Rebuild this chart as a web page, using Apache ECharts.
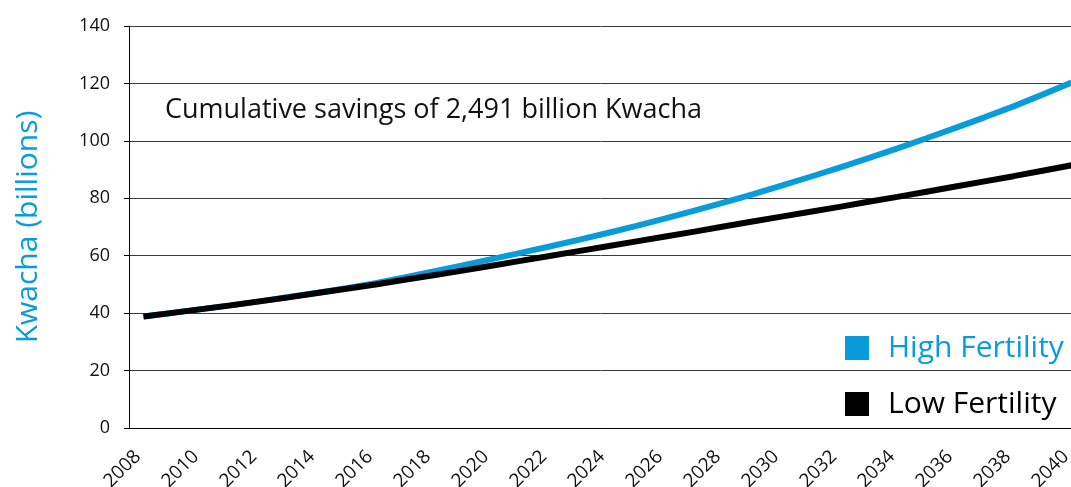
<!DOCTYPE html>
<html>
<head>
<meta charset="utf-8">
<script src="https://cdn.jsdelivr.net/npm/echarts@6/dist/echarts.min.js"></script>
<style>
  html, body { margin: 0; padding: 0; background: #fff; overflow: hidden; }
  #chart { width: 1071px; height: 487px; }
</style>
</head>
<body>
<div id="chart"></div>
<script>
// Years on the horizontal axis
const years = [
  '2008','2009','2010','2011','2012','2013','2014','2015','2016','2017','2018',
  '2019','2020','2021','2022','2023','2024','2025','2026','2027','2028','2029',
  '2030','2031','2032','2033','2034','2035','2036','2037','2038','2039','2040'
];

// Annual values, billions of Kwacha
const highFertility = [
  38.8, 40.1, 41.4, 42.7, 44.1, 45.6, 47.1, 48.7, 50.4, 52.4, 54.5,
  56.6, 58.8, 61.0, 63.2, 65.5, 67.9, 70.4, 73.0, 75.7, 78.5, 81.4,
  84.4, 87.5, 90.7, 94.0, 97.4, 100.9, 104.5, 108.2, 112.0, 116.1, 120.3
];
const lowFertility = [
  38.8, 40.1, 41.4, 42.7, 44.1, 45.5, 47.0, 48.5, 50.0, 51.6, 53.2,
  54.8, 56.5, 58.2, 59.9, 61.6, 63.3, 65.0, 66.7, 68.4, 70.2, 71.9,
  73.6, 75.3, 77.0, 78.8, 80.5, 82.3, 84.1, 85.9, 87.7, 89.6, 91.5
];

const seriesNames = ['High Fertility', 'Low Fertility'];
const yTicks = { min: 0, max: 140, interval: 20 };
const note = 'Cumulative savings of 2,491 billion Kwacha';

const BLUE = '#0a9bda';
const FONT = '"Open Sans", "DejaVu Sans", sans-serif';

const chart = echarts.init(document.getElementById('chart'), null, { renderer: 'canvas' });

chart.setOption({
  animation: false,
  backgroundColor: '#ffffff',
  title: {
    text: note,
    left: 165,
    top: 97,
    padding: 0,
    textStyle: { fontFamily: FONT, fontSize: 27, fontWeight: 'normal', color: '#111' }
  },
  legend: {
    orient: 'vertical',
    left: 845,
    top: 333,
    padding: 0,
    itemWidth: 24,
    itemHeight: 24,
    itemGap: 26,
    icon: 'rect',
    textStyle: { fontFamily: FONT, fontSize: 30, padding: [0, 0, 0, 14] },
    data: [
      { name: seriesNames[0], textStyle: { color: BLUE } },
      { name: seriesNames[1], textStyle: { color: '#000' } }
    ]
  },
  // the plot area runs on past the right edge of the canvas and is clipped there
  grid: {
    left: 129, top: 26, height: 402, width: 957,
    containLabel: false,
    outerBoundsMode: 'none'
  },
  xAxis: {
    type: 'category',
    data: years,
    boundaryGap: true,
    axisLine: { lineStyle: { color: '#000', width: 1 } },
    axisTick: { interval: 0, length: 5, lineStyle: { color: '#000' } },
    axisLabel: {
      interval: 1,
      rotate: 45,
      margin: 20,
      padding: [0, 8, 0, 0],
      fontFamily: FONT,
      fontSize: 19,
      color: '#111'
    },
    splitLine: { show: false }
  },
  yAxis: {
    type: 'value',
    min: yTicks.min,
    max: yTicks.max,
    interval: yTicks.interval,
    name: 'Kwacha (billions)',
    nameLocation: 'middle',
    nameGap: 86,
    nameTextStyle: { fontFamily: FONT, fontSize: 30, color: BLUE },
    axisLine: { show: true, lineStyle: { color: '#000', width: 1 } },
    axisTick: { show: true, length: 5, lineStyle: { color: '#000' } },
    axisLabel: { margin: 19, fontFamily: FONT, fontSize: 18, color: '#111' },
    splitLine: { show: true, lineStyle: { color: '#3a3a3a', width: 1 } }
  },
  series: [
    {
      name: seriesNames[0],
      type: 'line',
      data: highFertility,
      showSymbol: false,
      symbol: 'none',
      smooth: false,
      itemStyle: { color: BLUE },
      lineStyle: { color: BLUE, width: 6, cap: 'butt' },
      z: 2
    },
    {
      name: seriesNames[1],
      type: 'line',
      data: lowFertility,
      showSymbol: false,
      symbol: 'none',
      smooth: false,
      itemStyle: { color: '#000' },
      lineStyle: { color: '#000', width: 6, cap: 'butt' },
      z: 3
    }
  ]
});
</script>
</body>
</html>
